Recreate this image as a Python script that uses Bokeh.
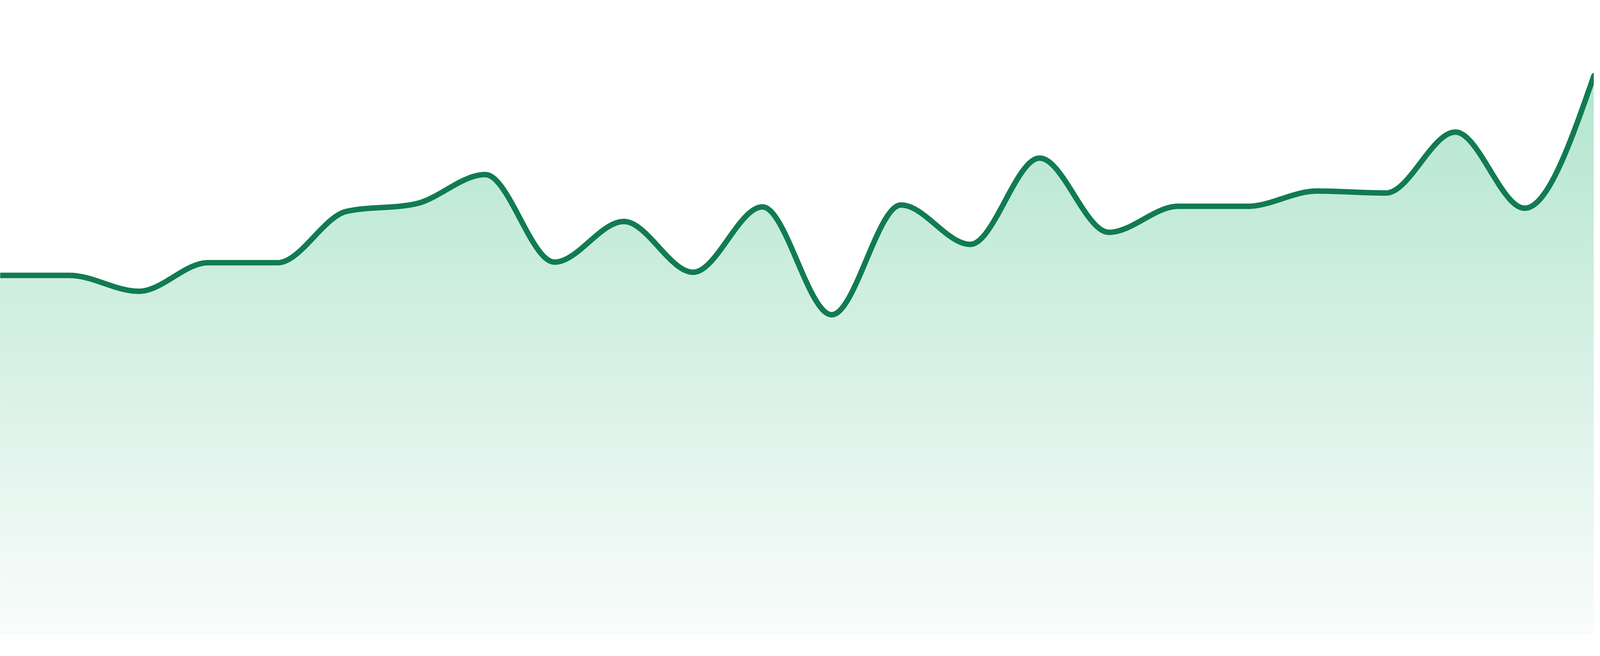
import numpy as np
from bokeh.plotting import figure
from bokeh.models import Range1d
from bokeh.embed import file_html
from bokeh.resources import INLINE

# ---- data ----
steps = list(range(24))
values = [56.6, 56.6, 54.1, 58.6, 58.6, 66.7, 67.9, 72.5, 58.7, 65.1, 57.1, 67.4,
          50.4, 67.7, 61.5, 75.1, 63.4, 67.5, 67.5, 69.9, 69.6, 79.2, 67.2, 88.1]

LINE_COLOR = "#117b52"
TOP_RGB = (179, 229, 207)
BOTTOM_RGB = (249, 252, 251)


def monotone_curve(xs, ys, n=80):
    """Render-time monotone-x cubic (same as d3.curveMonotoneX)."""
    x = np.asarray(xs, float)
    y = np.asarray(ys, float)
    h = np.diff(x)
    s = np.diff(y) / h
    m = len(x)
    t = np.zeros(m)
    sg = lambda v: -1.0 if v < 0 else 1.0
    for i in range(1, m - 1):
        h0, h1 = h[i - 1], h[i]
        s0, s1 = s[i - 1], s[i]
        p = (s0 * h1 + s1 * h0) / (h0 + h1)
        t[i] = (sg(s0) + sg(s1)) * min(abs(s0), abs(s1), 0.5 * abs(p))
    t[0] = (3 * s[0] - t[1]) / 2
    t[-1] = (3 * s[-1] - t[-2]) / 2
    u = np.linspace(0, 1, n, endpoint=False)
    X, Y = [], []
    for i in range(m - 1):
        x0, x1, y0, y1 = x[i], x[i + 1], y[i], y[i + 1]
        dx = (x1 - x0) / 3
        c0 = y0 + dx * t[i]
        c1 = y1 - dx * t[i + 1]
        X.append(x0 + (x1 - x0) * u)
        Y.append((1 - u) ** 3 * y0 + 3 * (1 - u) ** 2 * u * c0 + 3 * (1 - u) * u ** 2 * c1 + u ** 3 * y1)
    X.append([x[-1]])
    Y.append([y[-1]])
    return np.concatenate(X), np.concatenate(Y)


cx, cy = monotone_curve(steps, values)

p = figure(width=4080, height=1664, output_backend="svg", toolbar_location=None,
           x_range=Range1d(steps[0], steps[-1]), y_range=Range1d(0, 100),
           min_border_left=0, min_border_right=0, min_border_top=0, min_border_bottom=40)
p.axis.visible = False
p.xgrid.grid_line_color = None
p.ygrid.grid_line_color = None
p.outline_line_color = None
p.background_fill_color = "white"
p.border_fill_color = "white"

# vertical gradient fill built from stacked layers
vtop = max(values)
n_bands = 130
edges = np.linspace(0, 100, n_bands + 1)
for k in range(n_bands):
    lo = edges[k]
    if np.max(cy) <= lo:
        break
    mid = (edges[k] + edges[k + 1]) / 2
    tt = mid / vtop
    rgb = [int(round(min(255, max(0, b + (a - b) * tt)))) for a, b in zip(TOP_RGB, BOTTOM_RGB)]
    p.varea(x=cx, y1=np.full_like(cy, lo), y2=np.maximum(cy, lo),
            fill_color="#%02x%02x%02x" % tuple(rgb), fill_alpha=1.0)

p.line(cx, cy, line_color=LINE_COLOR, line_width=14, line_join="round", line_cap="round")

open("out.html", "w").write(file_html(p, INLINE))
